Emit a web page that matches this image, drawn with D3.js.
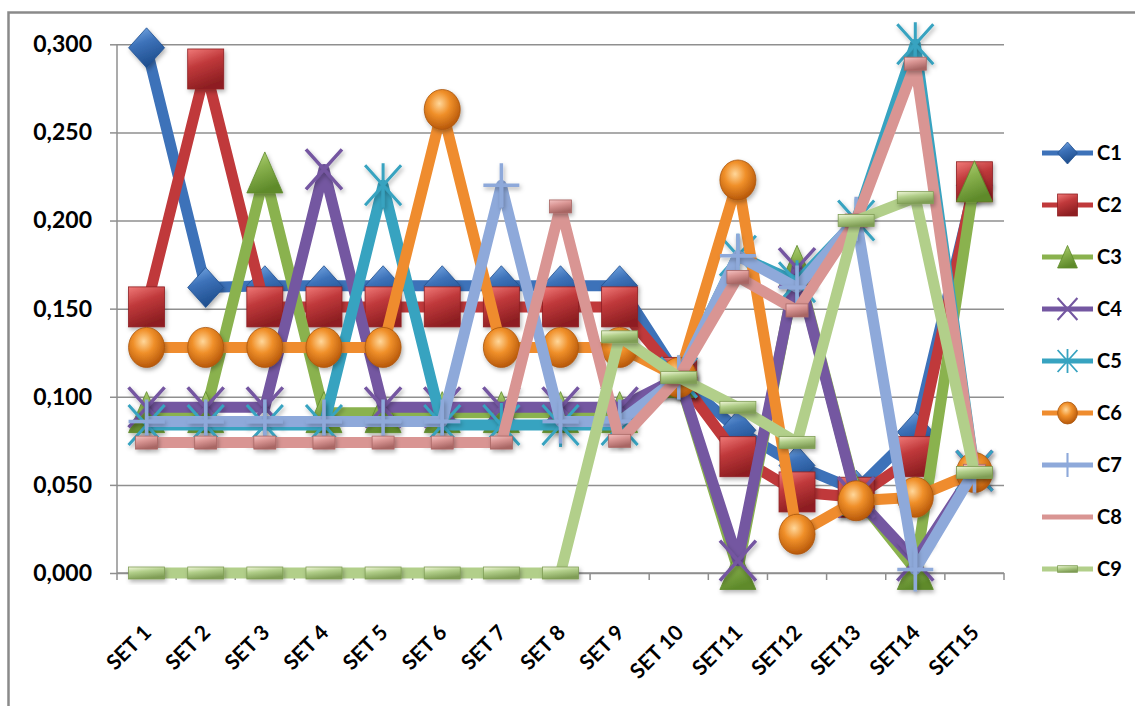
<!DOCTYPE html>
<html>
<head>
<meta charset="utf-8">
<script src="https://cdn.jsdelivr.net/npm/d3@7"></script>
<style>
  body { margin: 0; background: #fff; }
  svg { display: block; }
  text { font-family: Lato, "Open Sans", sans-serif; font-weight: 700; fill: #000; }
</style>
</head>
<body>
<svg id="chart" width="1135" height="706"></svg>
<script>
// ---- data ----
const categories = ["SET 1", "SET 2", "SET 3", "SET 4", "SET 5", "SET 6", "SET 7", "SET 8",
                    "SET 9", "SET 10", "SET11", "SET12", "SET13", "SET14", "SET15"];
const seriesNames = ["C1", "C2", "C3", "C4", "C5", "C6", "C7", "C8", "C9"];
const yTicks = [0, 0.05, 0.10, 0.15, 0.20, 0.25, 0.30];

const C1 = [0.298, 0.162, 0.163, 0.163, 0.163, 0.163, 0.163, 0.163, 0.163, 0.111, 0.081, 0.061, 0.047, 0.080, 0.220];
const C2 = [0.151, 0.286, 0.151, 0.151, 0.151, 0.151, 0.151, 0.151, 0.151, 0.111, 0.066, 0.046, 0.043, 0.066, 0.222];
const C3 = [0.091, 0.091, 0.227, 0.091, 0.091, 0.091, 0.091, 0.091, 0.091, 0.111, 0.002, 0.174, 0.044, 0.002, 0.222];
const C4 = [0.094, 0.094, 0.094, 0.229, 0.094, 0.094, 0.094, 0.094, 0.094, 0.111, 0.007, 0.173, 0.043, 0.007, 0.058];
const C5 = [0.084, 0.084, 0.084, 0.084, 0.220, 0.084, 0.084, 0.084, 0.084, 0.111, 0.180, 0.165, 0.200, 0.300, 0.058];
const C6 = [0.128, 0.128, 0.128, 0.128, 0.128, 0.263, 0.128, 0.128, 0.128, 0.111, 0.223, 0.022, 0.041, 0.043, 0.057];
const C7 = [0.086, 0.086, 0.086, 0.086, 0.086, 0.086, 0.220, 0.086, 0.086, 0.111, 0.180, 0.162, 0.201, 0.002, 0.058];
const C8 = [0.074, 0.074, 0.074, 0.074, 0.074, 0.074, 0.074, 0.208, 0.075, 0.111, 0.168, 0.149, 0.200, 0.289, 0.058];
const C9 = [0.000, 0.000, 0.000, 0.000, 0.000, 0.000, 0.000, 0.000, 0.134, 0.111, 0.094, 0.074, 0.200, 0.213, 0.057];
const seriesValues = [C1, C2, C3, C4, C5, C6, C7, C8, C9];

// ---- appearance per series ----
const styles = [
  { color: "#3d72b9", light: "#7fb0ea", dark: "#1f4f8f", marker: "diamond" },
  { color: "#c0393b", light: "#f07a78", dark: "#8e1f22", marker: "square" },
  { color: "#8ab24e", light: "#b7d77f", dark: "#5e8a2a", marker: "triangle" },
  { color: "#7457a1", light: "#9e85c8", dark: "#553c80", marker: "x" },
  { color: "#37a3c0", light: "#6fcbe2", dark: "#1f7f99", marker: "star" },
  { color: "#ef8c2e", light: "#ffd08a", dark: "#c0600d", marker: "circle" },
  { color: "#8ea9da", light: "#b9cdef", dark: "#6d8cc4", marker: "plus" },
  { color: "#d99593", light: "#f4c3c3", dark: "#a86664", marker: "dash" },
  { color: "#b2cf8a", light: "#f2f7dc", dark: "#7f9d55", marker: "bar" }
];

const svg = d3.select("#chart");
const plot = { left: 117, right: 1004, top: 44.3, bottom: 573 };

const x = d3.scaleBand().domain(categories).range([plot.left, plot.right]);
const y = d3.scaleLinear().domain([0, 0.3]).range([plot.bottom, plot.top]);
const cx = c => x(c) + x.bandwidth() / 2;
const fmt = d3.formatLocale({ decimal: ",", thousands: ".", grouping: [3], currency: ["", ""] }).format(".3f");

// ---- gradients & shadow ----
const defs = svg.append("defs");
styles.forEach((s, i) => {
  const lg = defs.append("linearGradient").attr("id", "g" + i)
    .attr("x1", "0").attr("y1", "0").attr("x2", "0.35").attr("y2", "1");
  lg.append("stop").attr("offset", "0%").attr("stop-color", s.light);
  lg.append("stop").attr("offset", "45%").attr("stop-color", s.color);
  lg.append("stop").attr("offset", "100%").attr("stop-color", s.dark);
});
const rg = defs.append("radialGradient").attr("id", "ball")
  .attr("cx", "0.42").attr("cy", "0.35").attr("r", "0.65");
rg.append("stop").attr("offset", "0%").attr("stop-color", "#ffd79a");
rg.append("stop").attr("offset", "45%").attr("stop-color", "#f0902a");
rg.append("stop").attr("offset", "100%").attr("stop-color", "#b8590a");

const sh = defs.append("filter").attr("id", "shadow")
  .attr("x", "-50%").attr("y", "-50%").attr("width", "200%").attr("height", "200%");
sh.append("feDropShadow").attr("dx", 1.5).attr("dy", 2.5).attr("stdDeviation", 2)
  .attr("flood-color", "#000").attr("flood-opacity", 0.3);

// ---- chart frame ----
svg.append("path")
  .attr("d", "M8.5,720 L8.5,12.5 L1150,12.5")
  .attr("fill", "none").attr("stroke", "#8a8a8a").attr("stroke-width", 2.5);

// ---- gridlines & y axis ----
const grid = svg.append("g").attr("transform", `translate(${plot.left},0)`)
  .call(d3.axisLeft(y).tickValues(yTicks).tickSize(-(plot.right - plot.left)).tickFormat(""));
grid.select(".domain").remove();
grid.selectAll(".tick line").attr("stroke", "#8f8f8f").attr("stroke-width", 1.5);

const yAxis = svg.append("g").attr("transform", `translate(${plot.left},0)`)
  .call(d3.axisLeft(y).tickValues(yTicks).tickSize(7).tickPadding(18).tickFormat(fmt));
yAxis.select(".domain").attr("stroke", "#8f8f8f").attr("stroke-width", 1.5)
  .attr("d", `M0,${plot.top}V${plot.bottom}`);
yAxis.selectAll(".tick line").attr("stroke", "#8f8f8f").attr("stroke-width", 1.5);
yAxis.selectAll(".tick text").attr("font-size", 23).attr("fill", "#000")
  .style("font-family", "Lato, 'Open Sans', sans-serif").style("font-weight", 700);

// ---- x axis ----
const xAxis = svg.append("g");
xAxis.append("line")
  .attr("x1", plot.left).attr("x2", plot.right)
  .attr("y1", plot.bottom).attr("y2", plot.bottom)
  .attr("stroke", "#8f8f8f").attr("stroke-width", 1.5);
const edges = categories.map(c => x(c)).concat([x(categories[categories.length - 1]) + x.bandwidth()]);
xAxis.selectAll(".xt").data(edges).join("line").attr("class", "xt")
  .attr("x1", d => d).attr("x2", d => d)
  .attr("y1", plot.bottom).attr("y2", plot.bottom + 7)
  .attr("stroke", "#8f8f8f").attr("stroke-width", 1.5);
xAxis.selectAll(".xl").data(categories).join("text").attr("class", "xl")
  .attr("transform", d => `translate(${cx(d) + 6},${plot.bottom + 61}) rotate(-45)`)
  .attr("text-anchor", "end")
  .attr("font-size", 21)
  .text(d => d);

// ---- markers ----
function drawMarker(g, i, k) {
  const s = styles[i];
  const hw = 18 * k, hh = 20 * k;
  switch (s.marker) {
    case "diamond":
      g.append("path").attr("d", `M0,${-hh}L${hw},0L0,${hh}L${-hw},0Z`)
        .attr("fill", `url(#g${i})`).attr("stroke", s.dark).attr("stroke-width", 0.8);
      break;
    case "square":
      g.append("rect").attr("x", -hw).attr("y", -hh).attr("width", 2 * hw).attr("height", 2 * hh)
        .attr("fill", `url(#g${i})`).attr("stroke", s.dark).attr("stroke-width", 0.8);
      break;
    case "triangle":
      g.append("path").attr("d", `M0,${-hh * 1.05}L${hw},${hh}L${-hw},${hh}Z`)
        .attr("fill", `url(#g${i})`).attr("stroke", s.dark).attr("stroke-width", 0.8);
      break;
    case "circle":
      g.append("ellipse").attr("rx", hw).attr("ry", hh)
        .attr("fill", "url(#ball)").attr("stroke", "#a9560c").attr("stroke-width", 0.8);
      break;
    case "x":
      g.append("path").attr("d", `M${-hw},${-hh}L${hw},${hh}M${hw},${-hh}L${-hw},${hh}`)
        .attr("stroke", s.color).attr("stroke-width", 3.5 * Math.max(k, 0.6)).attr("fill", "none");
      break;
    case "star":
      g.append("path").attr("d", `M${-hw},${-hh}L${hw},${hh}M${hw},${-hh}L${-hw},${hh}M0,${-hh * 1.1}L0,${hh * 1.1}`)
        .attr("stroke", s.color).attr("stroke-width", 3 * Math.max(k, 0.6)).attr("fill", "none");
      break;
    case "plus":
      g.append("path").attr("d", `M${-hw},0L${hw},0M0,${-hh * 1.1}L0,${hh * 1.1}`)
        .attr("stroke", s.color).attr("stroke-width", 3.5 * Math.max(k, 0.6)).attr("fill", "none");
      break;
    case "dash":
      g.append("rect").attr("x", -11 * k).attr("y", -6.5 * k).attr("width", 22 * k).attr("height", 13 * k)
        .attr("fill", `url(#g${i})`).attr("stroke", s.dark).attr("stroke-width", 0.8);
      break;
    case "bar":
      g.append("rect").attr("x", -hw).attr("y", -6 * k).attr("width", 2 * hw).attr("height", 12 * k)
        .attr("fill", `url(#g${i})`).attr("stroke", s.dark).attr("stroke-width", 0.8);
      break;
  }
}

// ---- series ----
const line = d3.line().x(d => cx(d.cat)).y(d => y(d.v));
const plotG = svg.append("g");
seriesValues.forEach((vals, i) => {
  const pts = vals.map((v, j) => ({ cat: categories[j], v }));
  const g = plotG.append("g");
  g.append("path").datum(pts).attr("d", line)
    .attr("fill", "none").attr("stroke", styles[i].color)
    .attr("stroke-width", 11).attr("stroke-linejoin", "round").attr("stroke-linecap", "butt");
  g.selectAll(".m").data(pts).join("g").attr("class", "m")
    .attr("transform", d => `translate(${cx(d.cat)},${y(d.v)})`)
    .attr("filter", "url(#shadow)")
    .each(function () { drawMarker(d3.select(this), i, 1); });
});

// ---- legend ----
const legend = svg.append("g").attr("transform", "translate(1042,153)");
seriesNames.forEach((name, i) => {
  const row = legend.append("g").attr("transform", `translate(0,${i * 52})`);
  row.append("line").attr("x1", 0).attr("x2", 51).attr("y1", 0).attr("y2", 0)
    .attr("stroke", styles[i].color).attr("stroke-width", 5);
  if (styles[i].marker !== "dash") {
    const m = row.append("g").attr("transform", "translate(25.5,0)");
    drawMarker(m, i, 0.55);
  }
  row.append("text").attr("x", 55).attr("y", 0).attr("dy", "0.36em")
    .attr("font-size", 20).text(name);
});
</script>
</body>
</html>
